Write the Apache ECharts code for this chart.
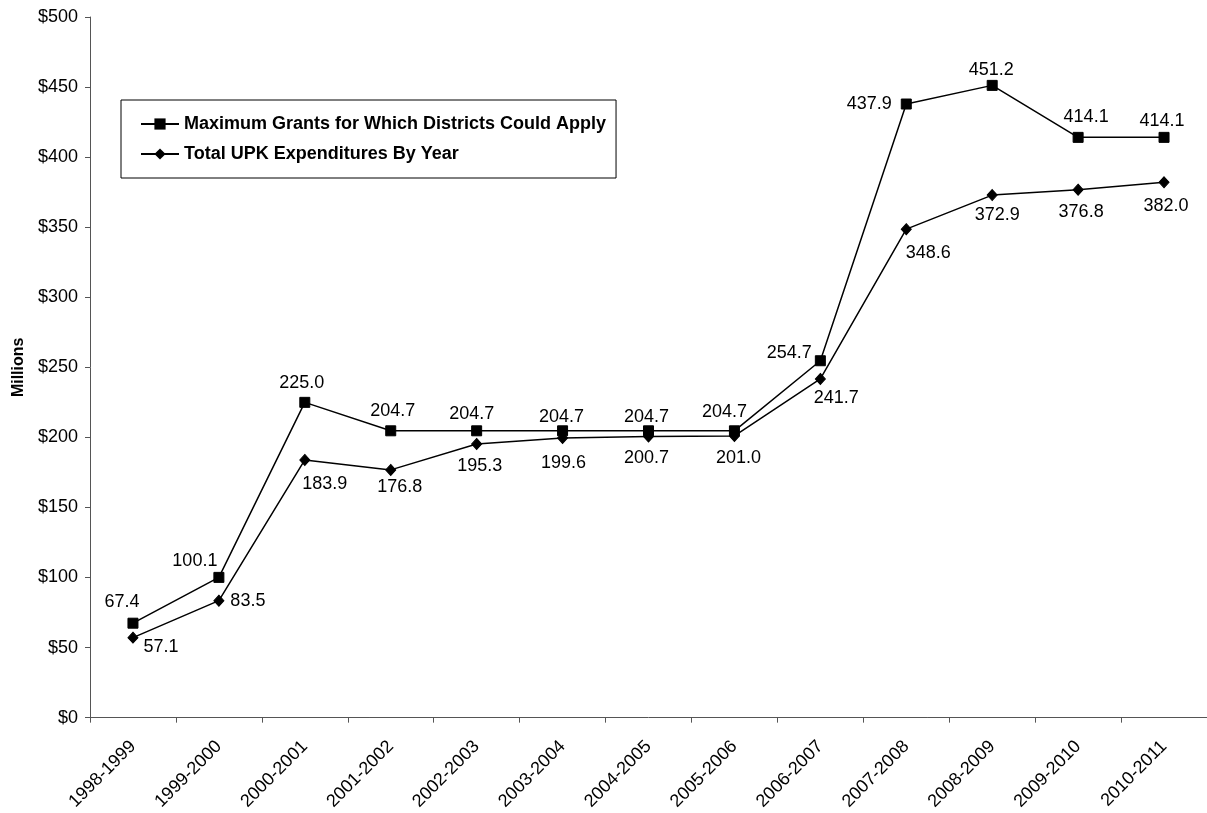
<!DOCTYPE html>
<html>
<head>
<meta charset="utf-8">
<script src="https://cdn.jsdelivr.net/npm/echarts@6/dist/echarts.min.js"></script>
<style>
  html, body { margin: 0; padding: 0; background: #fff; }
  #chart { width: 1207px; height: 813px; }
</style>
</head>
<body>
<div id="chart"></div>
<script>
// School years on the category axis
const years = ['1998-1999', '1999-2000', '2000-2001', '2001-2002', '2002-2003', '2003-2004',
  '2004-2005', '2005-2006', '2006-2007', '2007-2008', '2008-2009', '2009-2010', '2010-2011'];

// Values in millions of dollars
const maxGrants = [67.4, 100.1, 225.0, 204.7, 204.7, 204.7, 204.7, 204.7, 254.7, 437.9, 451.2, 414.1, 414.1];
const upkSpending = [57.1, 83.5, 183.9, 176.8, 195.3, 199.6, 200.7, 201.0, 241.7, 348.6, 372.9, 376.8, 382.0];

const seriesNames = ['Maximum Grants for Which Districts Could Apply', 'Total UPK Expenditures By Year'];
const yTicks = [0, 50, 100, 150, 200, 250, 300, 350, 400, 450, 500];

// Label nudges (pixels from the marker centre) so value labels don't collide with the lines
const grantLabelShift = [[-11, -21], [-24, -16], [-3, -19], [2, -20], [-5, -17], [-1, -14], [-2, -14],
  [-10, -19], [-31, -8], [-37, 0], [-1, -15], [8, -20], [-2, -16]];
const spendLabelShift = [[28, 9], [29, 0], [20, 24], [9, 17], [3, 22], [1, 25], [-2, 22],
  [4, 22], [16, 19], [22, 24], [5, 20], [3, 22], [2, 24]];

const FONT = 'Arial, "Liberation Sans", sans-serif';

function withLabels(values, shifts) {
  return values.map((v, i) => ({
    value: v,
    label: { offset: shifts[i] }
  }));
}

const labelStyle = {
  show: true,
  position: 'inside',
  align: 'center',
  verticalAlign: 'middle',
  color: '#000',
  fontFamily: FONT,
  fontSize: 18,
  formatter: p => p.value.toFixed(1)
};

const chart = echarts.init(document.getElementById('chart'), null, { renderer: 'canvas' });

chart.setOption({
  animation: false,
  backgroundColor: '#fff',
  grid: { left: 90, top: 17, width: 1118, height: 701, containLabel: false },
  legend: {
    orient: 'vertical',
    left: 121,
    top: 100,
    width: 520,
    padding: [15, 10, 15, 19],
    itemWidth: 38,
    itemHeight: 14,
    itemGap: 12,
    borderColor: '#000',
    borderWidth: 1,
    backgroundColor: '#fff',
    textStyle: { color: '#000', fontFamily: FONT, fontSize: 18, fontWeight: 'bold' },
    data: seriesNames
  },
  xAxis: {
    type: 'category',
    data: years,
    boundaryGap: true,
    axisLine: { lineStyle: { color: '#555', width: 1 } },
    axisTick: { show: true, length: 5, inside: false, lineStyle: { color: '#555' } },
    axisLabel: {
      interval: 0,
      rotate: 45,
      margin: 26,
      color: '#000',
      fontFamily: FONT,
      fontSize: 18
    },
    splitLine: { show: false }
  },
  yAxis: {
    type: 'value',
    min: 0,
    max: 500,
    interval: 50,
    name: 'Millions',
    nameLocation: 'middle',
    nameRotate: 90,
    nameGap: 63,
    nameTextStyle: { color: '#000', fontFamily: FONT, fontSize: 16, fontWeight: 'bold' },
    axisLine: { show: true, lineStyle: { color: '#555', width: 1 } },
    axisTick: { show: true, length: 5, inside: false, lineStyle: { color: '#555' } },
    axisLabel: {
      margin: 12,
      color: '#000',
      fontFamily: FONT,
      fontSize: 18,
      formatter: v => (yTicks.includes(v) ? '$' + v : '')
    },
    splitLine: { show: false }
  },
  series: [
    {
      name: seriesNames[0],
      type: 'line',
      data: withLabels(maxGrants, grantLabelShift),
      symbol: 'rect',
      symbolSize: 10,
      lineStyle: { color: '#000', width: 1.5 },
      itemStyle: { color: '#000', borderColor: '#000' },
      label: labelStyle,
      z: 3
    },
    {
      name: seriesNames[1],
      type: 'line',
      data: withLabels(upkSpending, spendLabelShift),
      symbol: 'diamond',
      symbolSize: [10, 11],
      lineStyle: { color: '#000', width: 1.5 },
      itemStyle: { color: '#000', borderColor: '#000' },
      label: labelStyle,
      z: 2
    }
  ]
});
</script>
</body>
</html>
